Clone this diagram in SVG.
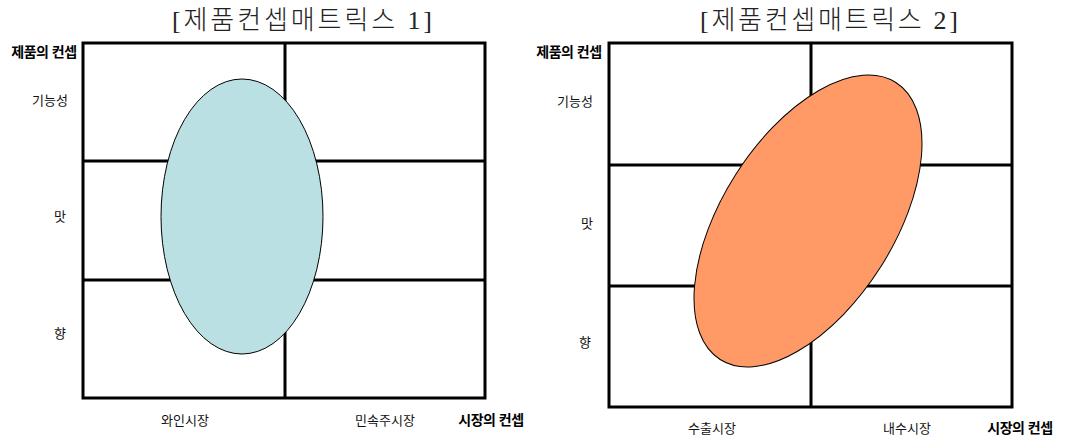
<svg xmlns="http://www.w3.org/2000/svg" width="1070" height="443" viewBox="0 0 1070 443">
<style>
.title{font-family:"Liberation Serif","Noto Sans CJK KR",serif;font-size:26px;font-weight:300;fill:#222;text-anchor:middle}
.lbl{font-family:"Liberation Sans","Noto Sans CJK KR",sans-serif;font-size:13px;fill:#111;text-anchor:middle}
.bold{font-family:"Liberation Sans","Noto Sans CJK KR",sans-serif;font-size:14px;font-weight:bold;fill:#000;text-anchor:middle;letter-spacing:-0.5px}
.grid{fill:none;stroke:#000;stroke-width:3}
.ell{stroke:#000;stroke-width:1}
</style>
<rect width="1070" height="443" fill="#fff"/>
<g id="matrix1">
  <text class="title" x="302" y="29" textLength="260" lengthAdjust="spacing">[제품컨셉매트릭스 1]</text>
  <g id="grid1">
    <rect class="grid" x="83" y="43" width="402" height="355"/>
    <line class="grid" x1="285" y1="43" x2="285" y2="398"/>
    <line class="grid" x1="83" y1="161" x2="485" y2="161"/>
    <line class="grid" x1="83" y1="280" x2="485" y2="280"/>
  </g>
  <ellipse id="ellipse1" class="ell" cx="242" cy="216.5" rx="81" ry="137.5" fill="#BBE0E3"/>
  <text class="bold" x="44" y="57">제품의 컨셉</text>
  <text class="lbl" x="50" y="105">기능성</text>
  <text class="lbl" x="60" y="221">맛</text>
  <text class="lbl" x="60" y="338">향</text>
  <text class="lbl" x="185" y="425">와인시장</text>
  <text class="lbl" x="385" y="425">민속주시장</text>
  <text class="bold" x="491" y="425">시장의 컨셉</text>
</g>
<g id="matrix2">
  <text class="title" x="829" y="29" textLength="258" lengthAdjust="spacing">[제품컨셉매트릭스 2]</text>
  <g id="grid2">
    <rect class="grid" x="609" y="43" width="403" height="364"/>
    <line class="grid" x1="811" y1="43" x2="811" y2="407"/>
    <line class="grid" x1="609" y1="165" x2="1012" y2="165"/>
    <line class="grid" x1="609" y1="286" x2="1012" y2="286"/>
  </g>
  <ellipse id="ellipse2" class="ell" cx="0" cy="0" rx="164" ry="86" fill="#FF9966" transform="translate(808 221) rotate(-57.6)"/>
  <text class="bold" x="569" y="57">제품의 컨셉</text>
  <text class="lbl" x="575" y="106">기능성</text>
  <text class="lbl" x="587" y="228">맛</text>
  <text class="lbl" x="585" y="347">향</text>
  <text class="lbl" x="712" y="433">수출시장</text>
  <text class="lbl" x="907" y="433">내수시장</text>
  <text class="bold" x="1020" y="433">시장의 컨셉</text>
</g>
</svg>
